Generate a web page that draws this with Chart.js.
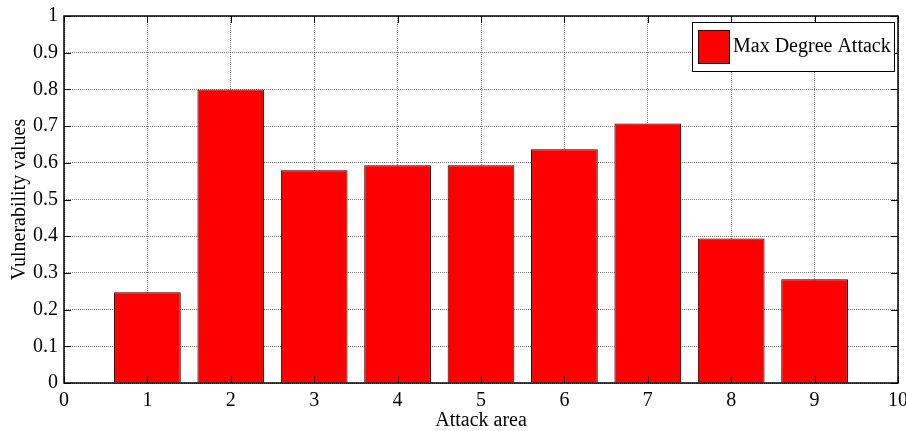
<!DOCTYPE html>
<html>
<head>
<meta charset="utf-8">
<script src="https://cdn.jsdelivr.net/npm/chart.js@4.4.0/dist/chart.umd.min.js"></script>
<style>
    html, body { margin: 0; padding: 0; background: #fff; }
    #wrap { width: 906px; height: 431px; }
</style>
</head>
<body>
<div id="wrap"><canvas id="vulnChart"></canvas></div>
<script>
// data
const attackAreas = [1, 2, 3, 4, 5, 6, 7, 8, 9];
const vulnValues = [0.247, 0.800, 0.580, 0.593, 0.593, 0.637, 0.707, 0.394, 0.283];
const seriesLabel = 'Max Degree Attack';
const xTicks = [0, 1, 2, 3, 4, 5, 6, 7, 8, 9, 10];
const yTicks = [0, 0.1, 0.2, 0.3, 0.4, 0.5, 0.6, 0.7, 0.8, 0.9, 1];

const serif = 'Liberation Serif';

// matlab style box with inward ticks + legend inside the axes
const matlabBox = {
    id: 'matlabBox',
    afterDraw(chart) {
        const c = chart.ctx;
        const a = chart.chartArea;
        const xs = chart.scales.x, ys = chart.scales.y;
        c.save();
        c.strokeStyle = '#000';
        c.lineWidth = 1;
        c.beginPath();
        xTicks.forEach(t => {
            const px = Math.round(xs.getPixelForValue(t)) + 0.5;
            c.moveTo(px, a.bottom); c.lineTo(px, a.bottom - 7);
            c.moveTo(px, a.top); c.lineTo(px, a.top + 7);
        });
        yTicks.forEach(t => {
            const py = Math.round(ys.getPixelForValue(t)) + 0.5;
            c.moveTo(a.left, py); c.lineTo(a.left + 7, py);
            c.moveTo(a.right, py); c.lineTo(a.right - 7, py);
        });
        c.stroke();
        c.lineWidth = 1.5;
        c.strokeRect(a.left, a.top, a.right - a.left, a.bottom - a.top);

        // legend
        const bx = a.right - 206, by = a.top + 6, bw = 202, bh = 49;
        c.fillStyle = '#fff';
        c.fillRect(bx, by, bw, bh);
        c.lineWidth = 1;
        c.strokeRect(bx + 0.5, by + 0.5, bw, bh);
        c.fillStyle = '#ff0000';
        c.fillRect(bx + 6, by + 8, 31, 33);
        c.strokeRect(bx + 6.5, by + 8.5, 31, 33);
        c.fillStyle = '#000';
        c.font = '20px "' + serif + '"';
        c.textBaseline = 'middle';
        c.fillText(seriesLabel, bx + 41, by + 25);
        c.restore();
    }
};

const ctx = document.getElementById('vulnChart').getContext('2d');
const vulnChart = new Chart(ctx, {
    type: 'bar',
    data: {
        datasets: [{
            label: seriesLabel,
            data: attackAreas.map((x, i) => ({ x: x, y: vulnValues[i] })),
            backgroundColor: '#ff0000',
            borderColor: '#000',
            borderWidth: 1,
            barPercentage: 0.8,
            categoryPercentage: 1.0
        }]
    },
    options: {
        responsive: true, maintainAspectRatio: false, animation: false,
        layout: { padding: { top: 16, right: 8, left: 0, bottom: 0 } },
        plugins: { legend: { display: false }, tooltip: { enabled: false } },
        scales: {
            x: {
                type: 'linear', min: 0, max: 10, offset: false,
                afterBuildTicks: scale => { scale.ticks = xTicks.map(v => ({ value: v })); },
                afterFit: scale => { scale.height = 48; scale.paddingRight = 0; scale.paddingLeft = 0; },
                grid: { color: 'rgba(0,0,0,0.5)', drawTicks: false, offset: false },
                border: { display: false, dash: [1, 1] },
                ticks: {
                    color: '#000', padding: 6, maxRotation: 0,
                    font: { family: serif, size: 20 }
                },
                title: {
                    display: true, text: 'Attack area', color: '#000',
                    font: { family: serif, size: 20, lineHeight: 1.0 }, padding: { top: 0, bottom: 0 }
                }
            },
            y: {
                min: 0, max: 1,
                afterBuildTicks: scale => { scale.ticks = yTicks.map(v => ({ value: v })); },
                afterFit: scale => { scale.width = 64; scale.paddingTop = 0; scale.paddingBottom = 0; },
                grid: { color: 'rgba(0,0,0,0.5)', drawTicks: false },
                border: { display: false, dash: [1, 1] },
                ticks: {
                    color: '#000', padding: 6,
                    font: { family: serif, size: 20 },
                    callback: v => String(Math.round(v * 10) / 10)
                },
                title: {
                    display: true, text: 'Vulnerability values', color: '#000',
                    font: { family: serif, size: 20 }, padding: { top: 8, bottom: 0 }
                }
            }
        }
    },
    plugins: [matlabBox]
});
</script>
</body>
</html>
